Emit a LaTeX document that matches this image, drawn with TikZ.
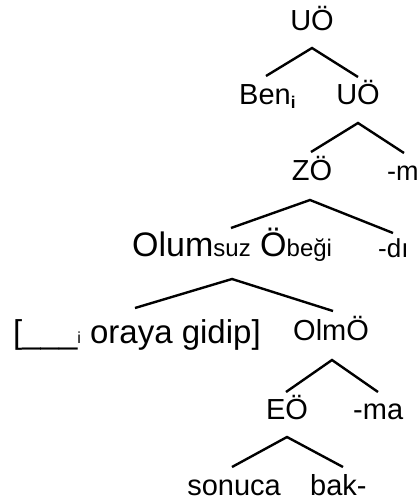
\documentclass[tikz,border=0pt]{standalone}
\usepackage{fontspec}
\setmainfont{Liberation Sans}
\begin{document}
\begin{tikzpicture}[x=1pt,y=-1pt]
\useasboundingbox (0,0) rectangle (419,504);
\tikzset{
  big/.style={inner sep=0pt,font=\fontsize{29}{29}\selectfont},
  huge/.style={inner sep=0pt,font=\fontsize{34}{34}\selectfont},
  sml/.style={inner sep=0pt,font=\fontsize{27}{27}\selectfont},
  branch/.style={line width=2.4pt},
}
\newcommand{\subi}{\raisebox{-4pt}{\fontsize{17}{17}\selectfont\bfseries i}}
\newcommand{\smtxt}[1]{{\fontsize{24}{24}\selectfont #1}}
% labels
\node[big,anchor=base] (uo1) at (312,30) {UÖ};
\node[big,anchor=base west] (ben) at (239,104) {Ben\subi};
\node[big,anchor=base] (uo2) at (358,104) {UÖ};
\node[big,anchor=base] (zo) at (312,180) {ZÖ};
\node[sml,anchor=base west] (m) at (387,180) {-m};
\node[huge,anchor=base west] (olum) at (132,256) {Olum\smtxt{suz} Ö\smtxt{beği}};
\node[inner sep=0pt,font=\fontsize{26}{26}\selectfont,anchor=base west] (di) at (378,257) {-dı};
\node[inner sep=0pt,font=\fontsize{33}{33}\selectfont,anchor=base west] (bracket) at (13,343) {[\_\_\_{\fontsize{16}{16}\selectfont i} oraya gidip]};
\node[big,anchor=base west] (olm) at (293,340) {OlmÖ};
\node[big,anchor=base] (eo) at (287,419) {EÖ};
\node[big,anchor=base west] (ma) at (353,419) {-ma};
\node[big,anchor=base east] (sonuca) at (281,495) {sonuca};
\node[big,anchor=base west] (bak) at (310,495) {bak-};
% branch points
\coordinate (a1) at (312,48);  \coordinate (l1) at (266,76);  \coordinate (r1) at (358,77);
\coordinate (a2) at (358,123); \coordinate (l2) at (311,152); \coordinate (r2) at (404,153);
\coordinate (a3) at (310,200); \coordinate (l3) at (231,228); \coordinate (r3) at (393,233);
\coordinate (a4) at (232,279); \coordinate (l4) at (135,308); \coordinate (r4) at (333,311);
\coordinate (a5) at (332,360); \coordinate (l5) at (286,392); \coordinate (r5) at (378,392);
\coordinate (a6) at (287,437); \coordinate (l6) at (232,467); \coordinate (r6) at (343,467);
\foreach \i in {1,...,6}{\draw[branch] (l\i) -- (a\i) -- (r\i);}
\end{tikzpicture}
\end{document}
